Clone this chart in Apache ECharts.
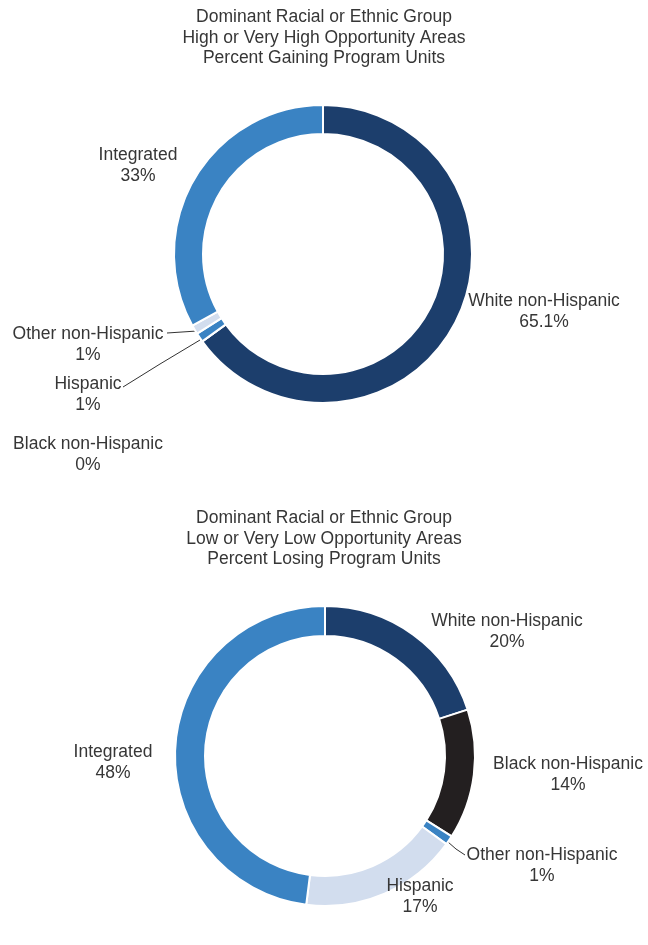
<!DOCTYPE html>
<html>
<head>
<meta charset="utf-8">
<script src="https://cdn.jsdelivr.net/npm/echarts@6/dist/echarts.min.js"></script>
<style>
html,body{margin:0;padding:0;background:#fff;}
#chart{width:648px;height:945px;}
</style>
</head>
<body>
<div id="chart"></div>
<script>
// ---- Data ----
var topTitle = 'Dominant Racial or Ethnic Group\nHigh or Very High Opportunity Areas\nPercent Gaining Program Units';
var bottomTitle = 'Dominant Racial or Ethnic Group\nLow or Very Low Opportunity Areas\nPercent Losing Program Units';

var topNames = ['White non-Hispanic', 'Black non-Hispanic', 'Hispanic', 'Other non-Hispanic', 'Integrated'];
var topValues = [65.1, 0, 1, 1, 33];

var bottomNames = ['White non-Hispanic', 'Black non-Hispanic', 'Other non-Hispanic', 'Hispanic', 'Integrated'];
var bottomValues = [20, 14, 1, 17, 48];

// ---- Styles ----
var NAVY = '#1c3e6c', BLUE = '#3a83c3', LIGHT = '#d2ddee', BLACK = '#231f20';
var topColors = [NAVY, BLACK, BLUE, LIGHT, BLUE];
var bottomColors = [NAVY, BLACK, BLUE, LIGHT, BLUE];

// label placement (pixels), per data index
var topLabelPos = [[544, 312], [88, 455], [88, 395], [88, 345], [138, 166]];
var topLines = {2: [[200, 340], [160, 364], [123, 387]], 3: [[197, 331], [182, 332], [167, 333]]};
var bottomLabelPos = [[507, 632], [568, 775], [542, 866], [420, 897], [113, 763]];
var bottomLines = {2: [[448, 842], [456, 849], [465, 855]]};

var FONT = 'Liberation Sans, Arial, Helvetica, sans-serif';
var TXT = '#363636';

function buildData(names, values, colors, lines) {
  return names.map(function (n, i) {
    return {
      name: n,
      value: values[i],
      itemStyle: {color: colors[i]},
      labelLine: {show: !!lines[i]}
    };
  });
}

function makeLayout(pos, lines) {
  return function (params) {
    var p = pos[params.dataIndex];
    var r = {x: p[0], y: p[1], align: 'center', verticalAlign: 'middle'};
    if (lines[params.dataIndex]) r.labelLinePoints = lines[params.dataIndex];
    return r;
  };
}

function pieSeries(names, values, colors, lines, pos, center, radius) {
  return {
    type: 'pie',
    center: center,
    radius: radius,
    startAngle: 90,
    clockwise: true,
    avoidLabelOverlap: false,
    silent: true,
    animation: false,
    itemStyle: {borderColor: '#ffffff', borderWidth: 2},
    label: {
      show: true,
      position: 'outside',
      formatter: '{b}\n{c}%',
      fontFamily: FONT,
      fontSize: 17.5,
      lineHeight: 21,
      color: TXT,
      align: 'center'
    },
    labelLine: {show: false, lineStyle: {color: '#333333', width: 1}},
    labelLayout: makeLayout(pos, lines),
    emphasis: {disabled: true},
    data: buildData(names, values, colors, lines)
  };
}

var chart = echarts.init(document.getElementById('chart'), null, {renderer: 'canvas'});
var titleStyle = {fontFamily: FONT, fontSize: 17.5, fontWeight: 'normal', lineHeight: 20.5, color: TXT, align: 'center'};
chart.setOption({
  backgroundColor: '#ffffff',
  animation: false,
  title: [
    {text: topTitle, left: 'center', top: 2, textStyle: titleStyle},
    {text: bottomTitle, left: 'center', top: 503, textStyle: titleStyle}
  ],
  series: [
    pieSeries(topNames, topValues, topColors, topLines, topLabelPos, [323, 254], [120, 149]),
    pieSeries(bottomNames, bottomValues, bottomColors, bottomLines, bottomLabelPos, [325, 756], [120, 150])
  ]
});
</script>
</body>
</html>
